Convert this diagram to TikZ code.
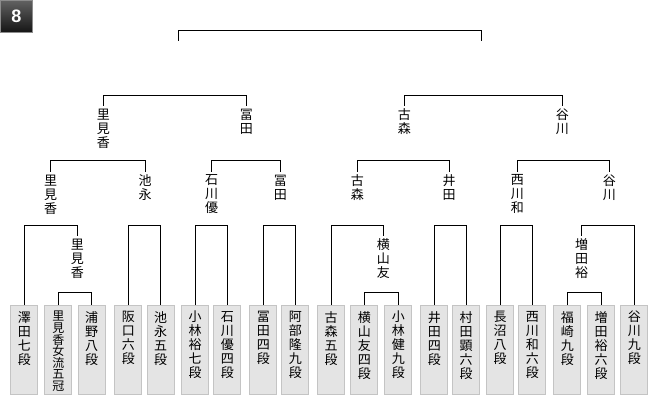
\documentclass[tikz,border=0pt]{standalone}
\usepackage{fontspec}
\newfontfamily\jpfont{Noto Sans CJK JP}
\newfontfamily\numfont{Liberation Sans}
\definecolor{boxfill}{HTML}{E4E4E4}
\definecolor{boxline}{HTML}{C4C4C4}

\begin{document}
\begin{tikzpicture}[
  x=1pt, y=-1pt,
  bracket/.style={draw=black, line width=1pt},
  player/.style={rectangle, draw=boxline, line width=1pt, fill=boxfill, minimum width=27pt, minimum height=89pt, inner sep=0pt, anchor=north},
  pname/.style={anchor=north, yshift=-6pt, align=center, inner sep=0pt, font=\jpfont\fontsize{13}{14}\selectfont},
  winner/.style={anchor=north, align=center, inner xsep=0pt, inner ysep=3pt, font=\jpfont\fontsize{13}{14}\selectfont},
  numbox/.style={rectangle, minimum size=32pt, draw=black!45, line width=1pt, top color=black!62, bottom color=black!92, text=white, font=\numfont\bfseries\fontsize{18}{18}\selectfont}
]
\useasboundingbox (0,0) rectangle (660,395);

% Block number
\node[numbox] (Block) at (16.5,16.5) {8};

% Bracket levels
\coordinate (lvF) at (0,31);
\coordinate (lvS) at (0,95.7);
\coordinate (lvQ) at (0,160.7);
\coordinate (lvR) at (0,225.7);
\coordinate (lvP) at (0,292);

% Players
\node[player, label={[pname]north:澤\\田\\七\\段}] (Sawada) at (24.3,305) {};
\node[player, label={[pname, font=\jpfont\fontsize{12}{11.6}\selectfont]north:里\\見\\香\\女\\流\\五\\冠}] (Satomi) at (58.3,305) {};
\node[player, label={[pname]north:浦\\野\\八\\段}] (Urano) at (91.7,305) {};
\node[player, label={[pname]north:阪\\口\\六\\段}] (Sakaguchi) at (128.3,305) {};
\node[player, label={[pname]north:池\\永\\五\\段}] (Ikenaga) at (160.7,305) {};
\node[player, label={[pname]north:小\\林\\裕\\七\\段}] (KobayashiH) at (195,305) {};
\node[player, label={[pname]north:石\\川\\優\\四\\段}] (Ishikawa) at (227.3,305) {};
\node[player, label={[pname]north:冨\\田\\四\\段}] (Tomita) at (263.3,305) {};
\node[player, label={[pname]north:阿\\部\\隆\\九\\段}] (Abe) at (295.3,305) {};
\node[player, label={[pname]north:古\\森\\五\\段}] (Komori) at (331,305) {};
\node[player, label={[pname]north:横\\山\\友\\四\\段}] (Yokoyama) at (364.3,305) {};
\node[player, label={[pname]north:小\\林\\健\\九\\段}] (KobayashiK) at (398.3,305) {};
\node[player, label={[pname]north:井\\田\\四\\段}] (Ida) at (434.3,305) {};
\node[player, label={[pname]north:村\\田\\顕\\六\\段}] (Murata) at (466,305) {};
\node[player, label={[pname]north:長\\沼\\八\\段}] (Naganuma) at (500,305) {};
\node[player, label={[pname]north:西\\川\\和\\六\\段}] (Nishikawa) at (532.3,305) {};
\node[player, label={[pname]north:福\\崎\\九\\段}] (Fukuzaki) at (567.3,305) {};
\node[player, label={[pname]north:増\\田\\裕\\六\\段}] (Masuda) at (601,305) {};
\node[player, label={[pname]north:谷\\川\\九\\段}] (Tanigawa) at (634.3,305) {};

% Winners of the preliminary games
\node[winner] (W0Satomi) at (77.3,235.7) {里\\見\\香};
\node[winner] (W0Yokoyama) at (383.3,235.7) {横\\山\\友};
\node[winner] (W0Masuda) at (581.7,235.7) {増\\田\\裕};

% Winners of round 1
\node[winner] (W1Satomi) at (50.5,171.7) {里\\見\\香};
\node[winner] (W1Ikenaga) at (145,171.7) {池\\永};
\node[winner] (W1Ishikawa) at (211.7,171.7) {石\\川\\優};
\node[winner] (W1Tomita) at (280.3,171.7) {冨\\田};
\node[winner] (W1Komori) at (357.3,171.7) {古\\森};
\node[winner] (W1Ida) at (449,171.7) {井\\田};
\node[winner] (W1Nishikawa) at (517.3,171.7) {西\\川\\和};
\node[winner] (W1Tanigawa) at (609.3,171.7) {谷\\川};

% Winners of round 2
\node[winner] (W2Satomi) at (103.3,105.7) {里\\見\\香};
\node[winner] (W2Tomita) at (246.3,105.7) {冨\\田};
\node[winner] (W2Komori) at (404.3,105.7) {古\\森};
\node[winner] (W2Tanigawa) at (562.3,105.7) {谷\\川};

% Final stubs
\coordinate (FinalL) at (178.3,41);
\coordinate (FinalR) at (481.3,41);

% Final
\draw[bracket] (FinalL) |- (FinalR |- lvF) -- (FinalR);

% Semi-finals
\draw[bracket] (W2Satomi.north) |- (W2Tomita.north |- lvS) -- (W2Tomita.north);
\draw[bracket] (W2Komori.north) |- (W2Tanigawa.north |- lvS) -- (W2Tanigawa.north);

% Round 2
\draw[bracket] (W1Satomi.north) |- (W1Ikenaga.north |- lvQ) -- (W1Ikenaga.north);
\draw[bracket] (W1Ishikawa.north) |- (W1Tomita.north |- lvQ) -- (W1Tomita.north);
\draw[bracket] (W1Komori.north) |- (W1Ida.north |- lvQ) -- (W1Ida.north);
\draw[bracket] (W1Nishikawa.north) |- (W1Tanigawa.north |- lvQ) -- (W1Tanigawa.north);

% Round 1
\draw[bracket] (Sawada.north) |- (W0Satomi.north |- lvR) -- (W0Satomi.north);
\draw[bracket] (Sakaguchi.north) |- (Ikenaga.north |- lvR) -- (Ikenaga.north);
\draw[bracket] (KobayashiH.north) |- (Ishikawa.north |- lvR) -- (Ishikawa.north);
\draw[bracket] (Tomita.north) |- (Abe.north |- lvR) -- (Abe.north);
\draw[bracket] (Komori.north) |- (W0Yokoyama.north |- lvR) -- (W0Yokoyama.north);
\draw[bracket] (Ida.north) |- (Murata.north |- lvR) -- (Murata.north);
\draw[bracket] (Naganuma.north) |- (Nishikawa.north |- lvR) -- (Nishikawa.north);
\draw[bracket] (W0Masuda.north) |- (Tanigawa.north |- lvR) -- (Tanigawa.north);

% Preliminary games
\draw[bracket] (Satomi.north) |- (Urano.north |- lvP) -- (Urano.north);
\draw[bracket] (Yokoyama.north) |- (KobayashiK.north |- lvP) -- (KobayashiK.north);
\draw[bracket] (Fukuzaki.north) |- (Masuda.north |- lvP) -- (Masuda.north);

\end{tikzpicture}
\end{document}
